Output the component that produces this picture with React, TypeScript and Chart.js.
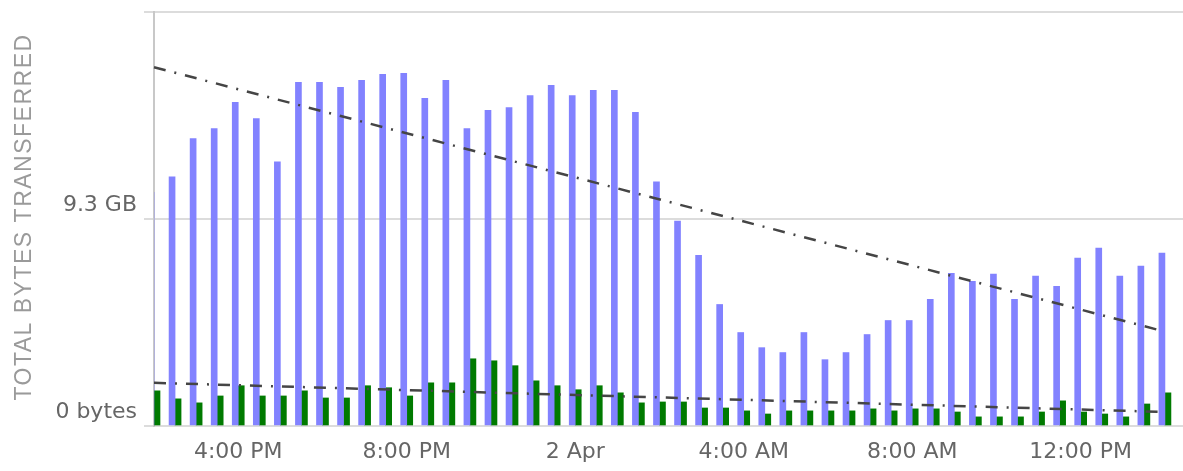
import React, { useEffect, useRef } from 'react';
import { Chart, registerables } from 'chart.js';

Chart.register(...registerables);

// Half-hour time slots (2:00 PM, 1 Apr -> 2:30 PM, 2 Apr)
const timeLabels = [
  '2:00 PM', '2:30 PM', '3:00 PM', '3:30 PM', '4:00 PM', '4:30 PM', '5:00 PM', '5:30 PM',
  '6:00 PM', '6:30 PM', '7:00 PM', '7:30 PM', '8:00 PM', '8:30 PM', '9:00 PM', '9:30 PM',
  '10:00 PM', '10:30 PM', '11:00 PM', '11:30 PM', '2 Apr', '12:30 AM', '1:00 AM', '1:30 AM',
  '2:00 AM', '2:30 AM', '3:00 AM', '3:30 AM', '4:00 AM', '4:30 AM', '5:00 AM', '5:30 AM',
  '6:00 AM', '6:30 AM', '7:00 AM', '7:30 AM', '8:00 AM', '8:30 AM', '9:00 AM', '9:30 AM',
  '10:00 AM', '10:30 AM', '11:00 AM', '11:30 AM', '12:00 PM', '12:30 PM', '1:00 PM', '1:30 PM',
  '2:00 PM', '2:30 PM',
];

// Tick labels that are shown on the time axis
const shownTicks = ['4:00 PM', '8:00 PM', '2 Apr', '4:00 AM', '8:00 AM', '12:00 PM'];

// Total bytes (GB) – blue series
const blueValues = [
  10.5, 11.2, 12.91, 13.36, 14.54, 13.81, 11.87, 15.44, 15.44, 15.21, 15.53, 15.8, 15.85,
  14.72, 15.53, 13.36, 14.18, 14.31, 14.85, 15.3, 14.85, 15.08, 15.08, 14.09, 10.97, 9.21,
  7.67, 5.46, 4.2, 3.52, 3.3, 4.2, 2.98, 3.3, 4.11, 4.74, 4.74, 5.69, 6.86, 6.5, 6.82, 5.69,
  6.73, 6.28, 7.54, 7.99, 6.73, 7.18, 7.77,
];

// Total bytes (GB) – green series
const greenValues = [
  1.58, 1.22, 1.04, 1.35, 1.81, 1.35, 1.35, 1.58, 1.26, 1.26, 1.81, 1.72, 1.35, 1.94, 1.94,
  3.02, 2.93, 2.71, 2.03, 1.81, 1.63, 1.81, 1.49, 1.04, 1.08, 1.08, 0.81, 0.81, 0.68, 0.54,
  0.68, 0.68, 0.68, 0.68, 0.77, 0.68, 0.77, 0.77, 0.63, 0.41, 0.41, 0.41, 0.63, 1.13, 0.63,
  0.54, 0.41, 0.99, 1.49,
];

// Trend lines: [start, end] values (GB)
const trendHigh = [16.12, 4.24];
const trendLow = [1.94, 0.63];

// Y axis ticks
const yTickValues = [0, 9.3, 18.6];
const yTickLabels = ['0 bytes', '9.3 GB', ''];
const yTitle = 'TOTAL BYTES TRANSFERRED';

const lastIndex = blueValues.length - 1;
const trendData = (pair: number[]) =>
  blueValues.map((_, i) => (i === 0 ? pair[0] : i === lastIndex ? pair[1] : null));

// Draws the y-axis title with letter spacing (real canvas text)
const yTitlePlugin = {
  id: 'yTitleSpaced',
  afterDraw(chart: any) {
    const ctx = chart.ctx as CanvasRenderingContext2D;
    const area = chart.chartArea;
    ctx.save();
    ctx.font = '23px "Liberation Sans", Arial, sans-serif';
    ctx.fillStyle = '#9a9a9a';
    (ctx as any).letterSpacing = '1.5px';
    ctx.textAlign = 'center';
    ctx.textBaseline = 'alphabetic';
    ctx.translate(31, (area.top + area.bottom) / 2 - 2);
    ctx.rotate(-Math.PI / 2);
    ctx.fillText(yTitle, 0, 0);
    ctx.restore();
  },
};

export default function App() {
  const canvasRef = useRef<HTMLCanvasElement | null>(null);

  useEffect(() => {
    document.body.style.margin = '0';
    document.body.style.overflow = 'hidden';
    const canvas = canvasRef.current;
    if (!canvas) return;
    const tickFont = { family: '"DejaVu Sans", sans-serif', size: 22 };
    const dash = [12, 9, 2, 9];
    const chart = new Chart(canvas, {
      type: 'bar',
      data: {
        labels: timeLabels,
        datasets: [
          {
            type: 'bar',
            data: blueValues,
            backgroundColor: '#8282ff',
            barThickness: 6,
            order: 1,
            clip: 0,
          } as any,
          {
            type: 'bar',
            data: greenValues,
            backgroundColor: '#007a00',
            barThickness: 6,
            order: 1,
            clip: 0,
          } as any,
          {
            type: 'line',
            data: trendData(trendHigh),
            borderColor: '#454545',
            borderWidth: 2.5,
            borderDash: dash,
            pointRadius: 0,
            spanGaps: true,
            order: 0,
          } as any,
          {
            type: 'line',
            data: trendData(trendLow),
            borderColor: '#454545',
            borderWidth: 2.5,
            borderDash: dash,
            pointRadius: 0,
            spanGaps: true,
            order: 0,
          } as any,
        ],
      },
      options: {
        responsive: false,
        animation: false,
        layout: { padding: { top: 12, left: 0, right: 0, bottom: 0 } },
        plugins: {
          legend: { display: false },
          tooltip: { enabled: false },
        },
        scales: {
          x: {
            type: 'category',
            offset: false,
            grid: { display: false, drawTicks: false },
            border: { display: false },
            ticks: {
              autoSkip: false,
              maxRotation: 0,
              minRotation: 0,
              padding: 13,
              color: '#666666',
              font: tickFont,
              callback: (_v: any, i: number) =>
                shownTicks.includes(timeLabels[i]) ? timeLabels[i] : null,
            },
            afterFit: (s: any) => {
              s.height = 45;
              s.paddingLeft = 0;
              s.paddingRight = 0;
            },
          },
          y: {
            min: 0,
            max: 18.6,
            afterBuildTicks: (s: any) => {
              s.ticks = yTickValues.map((v) => ({ value: v }));
            },
            ticks: {
              padding: 7,
              labelOffset: -14,
              color: '#666666',
              font: tickFont,
              callback: (_v: any, i: number) => yTickLabels[i],
            },
            grid: { color: '#dcdcdc', lineWidth: 2, tickLength: 10, drawTicks: true },
            border: { display: true, color: '#c8c8c8', width: 2 },
            title: { display: false },
            afterFit: (s: any) => {
              s.width = 154;
              s.paddingTop = 0;
              s.paddingBottom = 0;
            },
          },
        },
      } as any,
      plugins: [yTitlePlugin],
    });
    return () => chart.destroy();
  }, []);

  return (
    <div style={{ width: 1183, height: 471, background: '#fff', overflow: 'hidden' }}>
      <canvas ref={canvasRef} width={1186} height={471} style={{ display: 'block' }} />
    </div>
  );
}
